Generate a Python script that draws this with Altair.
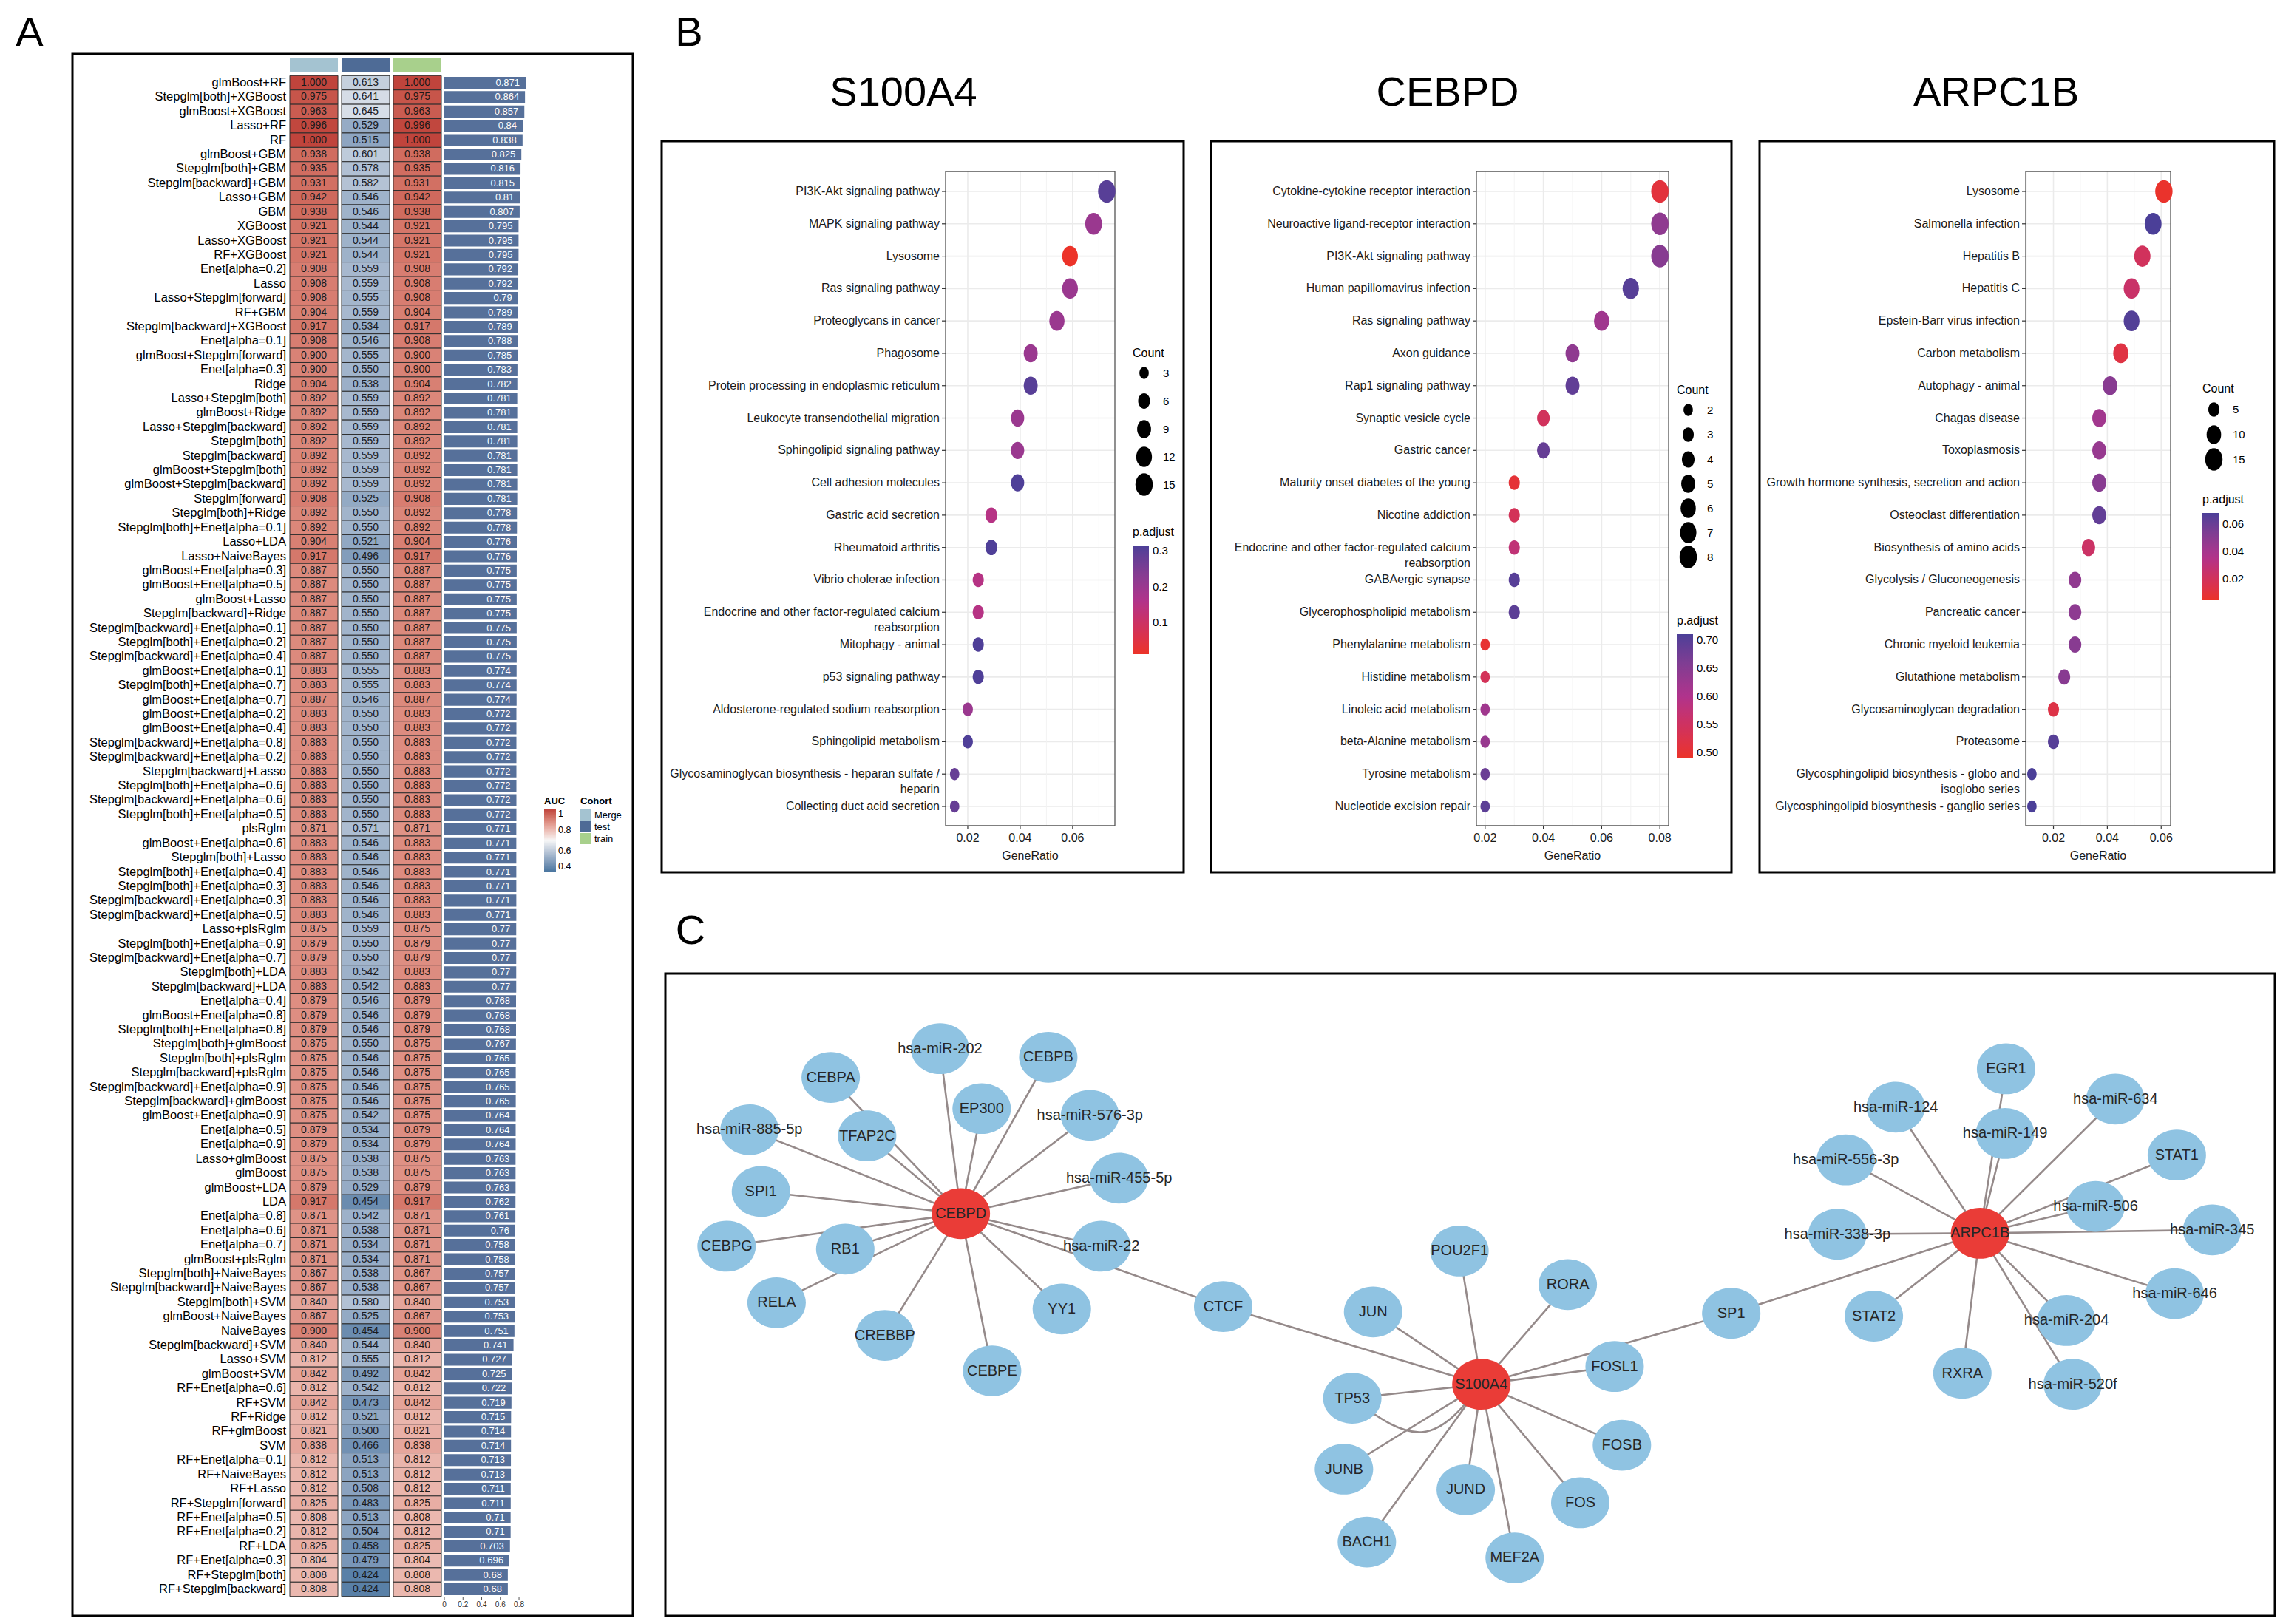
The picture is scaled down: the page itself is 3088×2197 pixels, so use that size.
import altair as alt
import pandas as pd

FONT = "Liberation Sans"
M = 8  # page margin: page coordinate p -> chart coordinate p - M


def P(v):
    return v - M


W, H = 3072, 2181

# ---------------------------------------------------------------- Panel A data
models = [
    "glmBoost+RF", "Stepglm[both]+XGBoost", "glmBoost+XGBoost", "Lasso+RF", "RF",
    "glmBoost+GBM", "Stepglm[both]+GBM", "Stepglm[backward]+GBM", "Lasso+GBM", "GBM",
    "XGBoost", "Lasso+XGBoost", "RF+XGBoost", "Enet[alpha=0.2]", "Lasso",
    "Lasso+Stepglm[forward]", "RF+GBM", "Stepglm[backward]+XGBoost", "Enet[alpha=0.1]", "glmBoost+Stepglm[forward]",
    "Enet[alpha=0.3]", "Ridge", "Lasso+Stepglm[both]", "glmBoost+Ridge", "Lasso+Stepglm[backward]",
    "Stepglm[both]", "Stepglm[backward]", "glmBoost+Stepglm[both]", "glmBoost+Stepglm[backward]", "Stepglm[forward]",
    "Stepglm[both]+Ridge", "Stepglm[both]+Enet[alpha=0.1]", "Lasso+LDA", "Lasso+NaiveBayes", "glmBoost+Enet[alpha=0.3]",
    "glmBoost+Enet[alpha=0.5]", "glmBoost+Lasso", "Stepglm[backward]+Ridge", "Stepglm[backward]+Enet[alpha=0.1]", "Stepglm[both]+Enet[alpha=0.2]",
    "Stepglm[backward]+Enet[alpha=0.4]", "glmBoost+Enet[alpha=0.1]", "Stepglm[both]+Enet[alpha=0.7]", "glmBoost+Enet[alpha=0.7]", "glmBoost+Enet[alpha=0.2]",
    "glmBoost+Enet[alpha=0.4]", "Stepglm[backward]+Enet[alpha=0.8]", "Stepglm[backward]+Enet[alpha=0.2]", "Stepglm[backward]+Lasso", "Stepglm[both]+Enet[alpha=0.6]",
    "Stepglm[backward]+Enet[alpha=0.6]", "Stepglm[both]+Enet[alpha=0.5]", "plsRglm", "glmBoost+Enet[alpha=0.6]", "Stepglm[both]+Lasso",
    "Stepglm[both]+Enet[alpha=0.4]", "Stepglm[both]+Enet[alpha=0.3]", "Stepglm[backward]+Enet[alpha=0.3]", "Stepglm[backward]+Enet[alpha=0.5]", "Lasso+plsRglm",
    "Stepglm[both]+Enet[alpha=0.9]", "Stepglm[backward]+Enet[alpha=0.7]", "Stepglm[both]+LDA", "Stepglm[backward]+LDA", "Enet[alpha=0.4]",
    "glmBoost+Enet[alpha=0.8]", "Stepglm[both]+Enet[alpha=0.8]", "Stepglm[both]+glmBoost", "Stepglm[both]+plsRglm", "Stepglm[backward]+plsRglm",
    "Stepglm[backward]+Enet[alpha=0.9]", "Stepglm[backward]+glmBoost", "glmBoost+Enet[alpha=0.9]", "Enet[alpha=0.5]", "Enet[alpha=0.9]",
    "Lasso+glmBoost", "glmBoost", "glmBoost+LDA", "LDA", "Enet[alpha=0.8]",
    "Enet[alpha=0.6]", "Enet[alpha=0.7]", "glmBoost+plsRglm", "Stepglm[both]+NaiveBayes", "Stepglm[backward]+NaiveBayes",
    "Stepglm[both]+SVM", "glmBoost+NaiveBayes", "NaiveBayes", "Stepglm[backward]+SVM", "Lasso+SVM",
    "glmBoost+SVM", "RF+Enet[alpha=0.6]", "RF+SVM", "RF+Ridge", "RF+glmBoost",
    "SVM", "RF+Enet[alpha=0.1]", "RF+NaiveBayes", "RF+Lasso", "RF+Stepglm[forward]",
    "RF+Enet[alpha=0.5]", "RF+Enet[alpha=0.2]", "RF+LDA", "RF+Enet[alpha=0.3]", "RF+Stepglm[both]",
    "RF+Stepglm[backward]",
]

train_auc = [
    1.000, 0.975, 0.963, 0.996, 1.000, 0.938, 0.935, 0.931, 0.942, 0.938,
    0.921, 0.921, 0.921, 0.908, 0.908, 0.908, 0.904, 0.917, 0.908, 0.900,
    0.900, 0.904, 0.892, 0.892, 0.892, 0.892, 0.892, 0.892, 0.892, 0.908,
    0.892, 0.892, 0.904, 0.917, 0.887, 0.887, 0.887, 0.887, 0.887, 0.887,
    0.887, 0.883, 0.883, 0.887, 0.883, 0.883, 0.883, 0.883, 0.883, 0.883,
    0.883, 0.883, 0.871, 0.883, 0.883, 0.883, 0.883, 0.883, 0.883, 0.875,
    0.879, 0.879, 0.883, 0.883, 0.879, 0.879, 0.879, 0.875, 0.875, 0.875,
    0.875, 0.875, 0.875, 0.879, 0.879, 0.875, 0.875, 0.879, 0.917, 0.871,
    0.871, 0.871, 0.871, 0.867, 0.867, 0.840, 0.867, 0.900, 0.840, 0.812,
    0.842, 0.812, 0.842, 0.812, 0.821, 0.838, 0.812, 0.812, 0.812, 0.825,
    0.808, 0.812, 0.825, 0.804, 0.808, 0.808,
]
merge_auc = [
    1.000, 0.975, 0.963, 0.996, 1.000, 0.938, 0.935, 0.931, 0.942, 0.938,
    0.921, 0.921, 0.921, 0.908, 0.908, 0.908, 0.904, 0.917, 0.908, 0.900,
    0.900, 0.904, 0.892, 0.892, 0.892, 0.892, 0.892, 0.892, 0.892, 0.908,
    0.892, 0.892, 0.904, 0.917, 0.887, 0.887, 0.887, 0.887, 0.887, 0.887,
    0.887, 0.883, 0.883, 0.887, 0.883, 0.883, 0.883, 0.883, 0.883, 0.883,
    0.883, 0.883, 0.871, 0.883, 0.883, 0.883, 0.883, 0.883, 0.883, 0.875,
    0.879, 0.879, 0.883, 0.883, 0.879, 0.879, 0.879, 0.875, 0.875, 0.875,
    0.875, 0.875, 0.875, 0.879, 0.879, 0.875, 0.875, 0.879, 0.917, 0.871,
    0.871, 0.871, 0.871, 0.867, 0.867, 0.840, 0.867, 0.900, 0.840, 0.812,
    0.842, 0.812, 0.842, 0.812, 0.821, 0.838, 0.812, 0.812, 0.812, 0.825,
    0.808, 0.812, 0.825, 0.804, 0.808, 0.808,
]
test_auc = [
    0.613, 0.641, 0.645, 0.529, 0.515, 0.601, 0.578, 0.582, 0.546, 0.546,
    0.544, 0.544, 0.544, 0.559, 0.559, 0.555, 0.559, 0.534, 0.546, 0.555,
    0.550, 0.538, 0.559, 0.559, 0.559, 0.559, 0.559, 0.559, 0.559, 0.525,
    0.550, 0.550, 0.521, 0.496, 0.550, 0.550, 0.550, 0.550, 0.550, 0.550,
    0.550, 0.555, 0.555, 0.546, 0.550, 0.550, 0.550, 0.550, 0.550, 0.550,
    0.550, 0.550, 0.571, 0.546, 0.546, 0.546, 0.546, 0.546, 0.546, 0.559,
    0.550, 0.550, 0.542, 0.542, 0.546, 0.546, 0.546, 0.550, 0.546, 0.546,
    0.546, 0.546, 0.542, 0.534, 0.534, 0.538, 0.538, 0.529, 0.454, 0.542,
    0.538, 0.534, 0.534, 0.538, 0.538, 0.580, 0.525, 0.454, 0.544, 0.555,
    0.492, 0.542, 0.473, 0.521, 0.500, 0.466, 0.513, 0.513, 0.508, 0.483,
    0.513, 0.504, 0.458, 0.479, 0.424, 0.424,
]
mean_auc = [
    0.871, 0.864, 0.857, 0.84, 0.838, 0.825, 0.816, 0.815, 0.81, 0.807,
    0.795, 0.795, 0.795, 0.792, 0.792, 0.79, 0.789, 0.789, 0.788, 0.785,
    0.783, 0.782, 0.781, 0.781, 0.781, 0.781, 0.781, 0.781, 0.781, 0.781,
    0.778, 0.778, 0.776, 0.776, 0.775, 0.775, 0.775, 0.775, 0.775, 0.775,
    0.775, 0.774, 0.774, 0.774, 0.772, 0.772, 0.772, 0.772, 0.772, 0.772,
    0.772, 0.772, 0.771, 0.771, 0.771, 0.771, 0.771, 0.771, 0.771, 0.77,
    0.77, 0.77, 0.77, 0.77, 0.768, 0.768, 0.768, 0.767, 0.765, 0.765,
    0.765, 0.765, 0.764, 0.764, 0.764, 0.763, 0.763, 0.763, 0.762, 0.761,
    0.76, 0.758, 0.758, 0.757, 0.757, 0.753, 0.753, 0.751, 0.741, 0.727,
    0.725, 0.722, 0.719, 0.715, 0.714, 0.714, 0.713, 0.713, 0.711, 0.711,
    0.71, 0.71, 0.703, 0.696, 0.68, 0.68,
]
cohorts = ["Merge", "test", "train"]
cohort_colors = ["#a4c3d1", "#4e6b96", "#a8d08c"]
bar_ticks = [0, 0.2, 0.4, 0.6, 0.8]
bar_tick_labels = ["0", "0.2", "0.4", "0.6", "0.8"]

# ---------------------------------------------------------------- Panel B data
s_terms = [
    "PI3K-Akt signaling pathway", "MAPK signaling pathway", "Lysosome", "Ras signaling pathway",
    "Proteoglycans in cancer", "Phagosome", "Protein processing in endoplasmic reticulum",
    "Leukocyte transendothelial migration", "Sphingolipid signaling pathway", "Cell adhesion molecules",
    "Gastric acid secretion", "Rheumatoid arthritis", "Vibrio cholerae infection",
    "Endocrine and other factor-regulated calcium\nreabsorption", "Mitophagy - animal",
    "p53 signaling pathway", "Aldosterone-regulated sodium reabsorption", "Sphingolipid metabolism",
    "Glycosaminoglycan biosynthesis - heparan sulfate /\nheparin", "Collecting duct acid secretion",
]
s_ratio = [0.073, 0.068, 0.059, 0.059, 0.054, 0.044, 0.044, 0.039, 0.039, 0.039,
           0.029, 0.029, 0.024, 0.024, 0.024, 0.024, 0.020, 0.020, 0.015, 0.015]
s_count = [15, 14, 12, 12, 11, 9, 9, 8, 8, 8, 6, 6, 5, 5, 5, 5, 4, 4, 3, 3]
s_padj = [0.30, 0.20, 0.012, 0.20, 0.20, 0.20, 0.30, 0.20, 0.20, 0.31,
          0.15, 0.31, 0.15, 0.15, 0.31, 0.31, 0.20, 0.31, 0.28, 0.28]

c_terms = [
    "Cytokine-cytokine receptor interaction", "Neuroactive ligand-receptor interaction",
    "PI3K-Akt signaling pathway", "Human papillomavirus infection", "Ras signaling pathway",
    "Axon guidance", "Rap1 signaling pathway", "Synaptic vesicle cycle", "Gastric cancer",
    "Maturity onset diabetes of the young", "Nicotine addiction",
    "Endocrine and other factor-regulated calcium\nreabsorption", "GABAergic synapse",
    "Glycerophospholipid metabolism", "Phenylalanine metabolism", "Histidine metabolism",
    "Linoleic acid metabolism", "beta-Alanine metabolism", "Tyrosine metabolism",
    "Nucleotide excision repair",
]
c_ratio = [0.08, 0.08, 0.08, 0.07, 0.06, 0.05, 0.05, 0.04, 0.04, 0.03,
           0.03, 0.03, 0.03, 0.03, 0.02, 0.02, 0.02, 0.02, 0.02, 0.02]
c_count = [8, 8, 8, 7, 6, 5, 5, 4, 4, 3, 3, 3, 3, 3, 2, 2, 2, 2, 2, 2]
c_padj = [0.51, 0.64, 0.65, 0.70, 0.62, 0.64, 0.69, 0.545, 0.685, 0.505,
          0.54, 0.575, 0.70, 0.695, 0.50, 0.54, 0.62, 0.63, 0.68, 0.695]

a_terms = [
    "Lysosome", "Salmonella infection", "Hepatitis B", "Hepatitis C", "Epstein-Barr virus infection",
    "Carbon metabolism", "Autophagy - animal", "Chagas disease", "Toxoplasmosis",
    "Growth hormone synthesis, secretion and action", "Osteoclast differentiation",
    "Biosynthesis of amino acids", "Glycolysis / Gluconeogenesis", "Pancreatic cancer",
    "Chronic myeloid leukemia", "Glutathione metabolism", "Glycosaminoglycan degradation",
    "Proteasome", "Glycosphingolipid biosynthesis - globo and\nisoglobo series",
    "Glycosphingolipid biosynthesis - ganglio series",
]
a_ratio = [0.061, 0.057, 0.053, 0.049, 0.049, 0.045, 0.041, 0.037, 0.037, 0.037,
           0.037, 0.033, 0.028, 0.028, 0.028, 0.024, 0.020, 0.020, 0.012, 0.012]
a_count = [15, 14, 13, 12, 12, 11, 10, 9, 9, 9, 9, 8, 7, 7, 7, 6, 5, 5, 3, 3]
a_padj = [0.005, 0.068, 0.020, 0.024, 0.066, 0.012, 0.050, 0.041, 0.045, 0.050,
          0.062, 0.023, 0.047, 0.048, 0.050, 0.050, 0.013, 0.065, 0.068, 0.068]

# ---------------------------------------------------------------- Panel C data (layout coords)
node_names = [
    "CEBPD", "hsa-miR-202", "CEBPB", "CEBPA", "EP300", "hsa-miR-576-3p", "hsa-miR-885-5p",
    "TFAP2C", "hsa-miR-455-5p", "SPI1", "CEBPG", "RB1", "hsa-miR-22", "RELA", "CREBBP",
    "YY1", "CEBPE", "CTCF", "S100A4", "POU2F1", "RORA", "JUN", "FOSL1", "TP53", "FOSB",
    "JUNB", "JUND", "FOS", "BACH1", "MEF2A", "SP1", "ARPC1B", "EGR1", "hsa-miR-124",
    "hsa-miR-634", "hsa-miR-149", "STAT1", "hsa-miR-556-3p", "hsa-miR-506", "hsa-miR-338-3p",
    "hsa-miR-345", "hsa-miR-646", "STAT2", "hsa-miR-204", "RXRA", "hsa-miR-520f",
]
node_x = [298, 278, 382, 173, 318, 422, 95, 208, 450, 106, 73, 187, 433, 121, 225,
          395, 328, 550, 798, 777, 881, 694, 926, 674, 933, 666, 783, 893, 688, 830,
          1038, 1277, 1302, 1196, 1407, 1301, 1466, 1148, 1388, 1140, 1500, 1464, 1175,
          1360, 1260, 1366]
node_y = [712, 368, 386, 428, 493, 507, 537, 550, 638, 666, 780, 786, 780, 898, 966,
          911, 1040, 906, 1068, 790, 860, 917, 1031, 1097, 1195, 1245, 1288, 1315, 1397,
          1430, 920, 753, 410, 490, 473, 545, 590, 600, 697, 755, 746, 879, 926, 935,
          1045, 1068]
hub_names = ["CEBPD", "S100A4", "ARPC1B"]
edge_src = (["CEBPD"] * 17 + ["S100A4"] * 13 + ["ARPC1B"] * 15)
edge_dst = [
    "hsa-miR-202", "CEBPB", "CEBPA", "EP300", "hsa-miR-576-3p", "hsa-miR-885-5p", "TFAP2C",
    "hsa-miR-455-5p", "SPI1", "CEBPG", "RB1", "hsa-miR-22", "RELA", "CREBBP", "YY1", "CEBPE", "CTCF",
    "CTCF", "POU2F1", "RORA", "JUN", "FOSL1", "TP53", "FOSB", "JUNB", "JUND", "FOS", "BACH1", "MEF2A", "SP1",
    "SP1", "EGR1", "hsa-miR-124", "hsa-miR-634", "hsa-miR-149", "STAT1", "hsa-miR-556-3p",
    "hsa-miR-506", "hsa-miR-338-3p", "hsa-miR-345", "hsa-miR-646", "STAT2", "hsa-miR-204",
    "RXRA", "hsa-miR-520f",
]
# second (curved) TP53 - S100A4 edge, read as a bent path: TP53 -> bend -> S100A4
loop_x = [674, 745, 798]
loop_y = [1097, 1210, 1068]

# ---------------------------------------------------------------- styles
AUC_RANGE = ["#4a76a0", "#f7f7f7", "#c0443c"]
BAR_COLOR = "#56709a"
P_RANGE = ["#ec3328", "#b0338c", "#4b3f98"]
NODE_COLORS = ["#ea3c37", "#8fc3e2"]
EDGE_COLOR = "#958a8a"
ELL_V = "M0,-1A0.77,1,0,1,1,0,1A0.77,1,0,1,1,0,-1Z"
ELL_H = "M-1,0A1,0.87,0,1,1,1,0A1,0.87,0,1,1,-1,0Z"
one = pd.DataFrame({"d": [0]})

# ================================================================ Panel A
n = len(models)
heat = pd.DataFrame({
    "model": models * 3,
    "cohort": ["Merge"] * n + ["test"] * n + ["train"] * n,
    "auc": merge_auc + test_auc + train_auc,
})
heat["label"] = heat["auc"].map(lambda v: f"{v:.3f}")
rows = pd.DataFrame({"model": models, "mean": mean_auc})
rows["mlabel"] = rows["mean"].map(lambda v: f"{v:.3f}".rstrip("0"))

xA = alt.Scale(type="band", domain=cohorts, range=[P(392), P(597)], paddingInner=0.071, paddingOuter=0)
yA = alt.Scale(type="band", domain=models, range=[P(102.3), P(2159.7)], paddingInner=0, paddingOuter=0)

heat_rect = alt.Chart(heat).mark_rect(stroke="#2e2e2e", strokeWidth=1).encode(
    x=alt.X("cohort:N", scale=xA, axis=None),
    y=alt.Y("model:N", scale=yA, axis=None),
    color=alt.Color("auc:Q", scale=alt.Scale(domain=[0.4, 0.7, 1.0], range=AUC_RANGE),
                    legend=alt.Legend(title="AUC", orient="none", legendX=P(736), legendY=P(1078),
                                      direction="vertical", gradientLength=84, gradientThickness=16,
                                      values=[0.4, 0.6, 0.8, 1.0], format="~g", titleFontSize=13,
                                      titleFontWeight="bold", labelFontSize=12.5, gradientStrokeWidth=0,
                                      titlePadding=4, labelOffset=3)),
)
heat_text = alt.Chart(heat).mark_text(font=FONT, fontSize=14, color="#1a1a1a").encode(
    x=alt.X("cohort:N", scale=xA, axis=None),
    y=alt.Y("model:N", scale=yA, axis=None),
    text="label:N",
)
row_labels = alt.Chart(rows).mark_text(font=FONT, fontSize=16.5, align="right", color="black").encode(
    x=alt.value(P(387)),
    y=alt.Y("model:N", scale=yA, axis=None),
    text="model:N",
)
header = alt.Chart(pd.DataFrame({"cohort": cohorts})).mark_rect().encode(
    x=alt.X("cohort:N", scale=xA, axis=None),
    y=alt.value(P(78)), y2=alt.value(P(98)),
    color=alt.Color("cohort:N", scale=alt.Scale(domain=cohorts, range=cohort_colors),
                    legend=alt.Legend(title="Cohort", orient="none", legendX=P(785), legendY=P(1078),
                                      symbolType="square", symbolSize=225, symbolStrokeWidth=0,
                                      rowPadding=1, labelFontSize=13, titleFontSize=13,
                                      titleFontWeight="bold", titlePadding=4, labelOffset=4)),
)
panelA_heat = alt.layer(heat_rect, heat_text, row_labels, header).resolve_scale(color="independent")

xBar = alt.Scale(domain=[0, 1], range=[P(601), P(601 + 126.3)], nice=False)
yBar = alt.Scale(type="band", domain=models, range=[P(102.3), P(2159.7)], paddingInner=0.17, paddingOuter=0.085)
bars = alt.Chart(rows).mark_bar(color=BAR_COLOR).encode(
    x=alt.X("mean:Q", scale=xBar, axis=None),
    y=alt.Y("model:N", scale=yBar, axis=None),
)
bar_text = alt.Chart(rows).mark_text(font=FONT, fontSize=13, align="right", dx=-8, color="white").encode(
    x=alt.X("mean:Q", scale=xBar, axis=None),
    y=alt.Y("model:N", scale=yBar, axis=None),
    text="mlabel:N",
)
tick_df = pd.DataFrame({"t": bar_ticks, "lab": bar_tick_labels})
bar_axis_ticks = alt.Chart(tick_df).mark_rule(color="#555", strokeWidth=1).encode(
    x=alt.X("t:Q", scale=xBar, axis=None), y=alt.value(P(2160)), y2=alt.value(P(2164)))
bar_axis_text = alt.Chart(tick_df).mark_text(font=FONT, fontSize=10, baseline="top", color="#333").encode(
    x=alt.X("t:Q", scale=xBar, axis=None), y=alt.value(P(2166)), text="lab:N")
panelA_bars = alt.layer(bars, bar_text, bar_axis_ticks, bar_axis_text)

# ================================================================ Panel B
PLOT_TOP, PLOT_BOT = 232, 1117
ROW0, ROW1 = 259, 1091


def dotplot(terms, ratio, count, padj, cfg):
    df = pd.DataFrame({"term": terms, "ratio": ratio, "count": count, "padj": padj})
    x0, x1 = cfg["x0"], cfg["x1"]
    xs = alt.Scale(domain=cfg["xdom"], range=[P(x0), P(x1)], zero=False, nice=False)
    ys = alt.Scale(type="point", domain=terms, range=[P(ROW0), P(ROW1)], padding=0)
    X = lambda f: alt.X(f, scale=xs, axis=None)
    Y = alt.Y("term:N", scale=ys, axis=None)
    major = pd.DataFrame({"t": cfg["major"], "lab": [f"{v:.2f}" for v in cfg["major"]]})
    minor = pd.DataFrame({"t": cfg["minor"]})

    hgrid = alt.Chart(df).mark_rule(color="#ebebeb", strokeWidth=1.6).encode(
        x=alt.value(P(x0)), x2=alt.value(P(x1)), y=Y)
    vmajor = alt.Chart(major).mark_rule(color="#ebebeb", strokeWidth=1.6).encode(
        x=X("t:Q"), y=alt.value(P(PLOT_TOP)), y2=alt.value(P(PLOT_BOT)))
    vminor = alt.Chart(minor).mark_rule(color="#f2f2f2", strokeWidth=0.9).encode(
        x=X("t:Q"), y=alt.value(P(PLOT_TOP)), y2=alt.value(P(PLOT_BOT)))
    border = alt.Chart(one).mark_rect(fill="transparent", stroke="#555555", strokeWidth=1.3).encode(
        x=alt.value(P(x0)), x2=alt.value(P(x1)), y=alt.value(P(PLOT_TOP)), y2=alt.value(P(PLOT_BOT)))
    pts = alt.Chart(df).mark_point(filled=True, shape=ELL_V, opacity=1, strokeWidth=0).encode(
        x=X("ratio:Q"), y=Y,
        color=alt.Color("padj:Q", scale=alt.Scale(domain=cfg["pdom"], range=P_RANGE, interpolate="lab"),
                        legend=alt.Legend(title="p.adjust", orient="none", legendX=P(cfg["legx"]),
                                          legendY=P(cfg["py"]), direction="vertical",
                                          gradientLength=cfg["glen"], gradientThickness=22,
                                          values=cfg["pvals"], format=cfg["pfmt"],
                                          titleFontSize=16, labelFontSize=15, titleFontWeight="normal",
                                          gradientStrokeWidth=0, titlePadding=10, labelOffset=5)),
        size=alt.Size("count:Q", scale=alt.Scale(domain=[min(count), max(count)], range=[270, 930], zero=False),
                      legend=alt.Legend(title="Count", orient="none", legendX=P(cfg["legx"]),
                                        legendY=P(cfg["county"]), values=cfg["cvals"],
                                        symbolType=ELL_V, symbolFillColor="black",
                                        symbolStrokeColor="black", symbolStrokeWidth=0,
                                        titleFontSize=16, labelFontSize=15, titleFontWeight="normal",
                                        gridAlign="all", rowPadding=cfg["rowpad"], labelOffset=10,
                                        titlePadding=10)),
    )
    ylab = alt.Chart(df).mark_text(font=FONT, fontSize=16, align="right", baseline="middle",
                                   color="#1a1a1a", lineBreak="\n", lineHeight=21).encode(
        x=alt.value(P(x0 - 8)), y=Y, text="term:N")
    yticks = alt.Chart(df).mark_rule(color="#333", strokeWidth=1.2).encode(
        x=alt.value(P(x0 - 5)), x2=alt.value(P(x0)), y=Y)
    xticks = alt.Chart(major).mark_rule(color="#333", strokeWidth=1.2).encode(
        x=X("t:Q"), y=alt.value(P(PLOT_BOT)), y2=alt.value(P(PLOT_BOT + 5)))
    xlab = alt.Chart(major).mark_text(font=FONT, fontSize=16, color="#1a1a1a").encode(
        x=X("t:Q"), y=alt.value(P(1134)), text="lab:N")
    xtitle = alt.Chart(one).mark_text(font=FONT, fontSize=16, color="#1a1a1a").encode(
        x=alt.value(P((x0 + x1) / 2)), y=alt.value(P(1158)), text=alt.value("GeneRatio"))
    return alt.layer(hgrid, vminor, vmajor, border, pts, ylab, yticks, xticks, xlab, xtitle)


cfgS = dict(x0=1279, x1=1508, xdom=[0.01155, 0.0761], major=[0.02, 0.04, 0.06], minor=[0.03, 0.05, 0.07],
            pdom=[0.011, 0.163, 0.315], pvals=[0.1, 0.2, 0.3], pfmt=".1f", cvals=[3, 6, 9, 12, 15],
            legx=1532, county=470, py=712, glen=147, rowpad=5)
cfgC = dict(x0=1997, x1=2257, xdom=[0.017, 0.083], major=[0.02, 0.04, 0.06, 0.08], minor=[0.03, 0.05, 0.07],
            pdom=[0.49, 0.60, 0.71], pvals=[0.5, 0.55, 0.6, 0.65, 0.7], pfmt=".2f",
            cvals=[2, 3, 4, 5, 6, 7, 8], legx=2268, county=520, py=832, glen=168, rowpad=1)
cfgR = dict(x0=2740, x1=2936, xdom=[0.0097, 0.0635], major=[0.02, 0.04, 0.06], minor=[0.01, 0.03, 0.05],
            pdom=[0.004, 0.036, 0.068], pvals=[0.02, 0.04, 0.06], pfmt=".2f", cvals=[5, 10, 15],
            legx=2979, county=518, py=668, glen=118, rowpad=0)

panelB1 = dotplot(s_terms, s_ratio, s_count, s_padj, cfgS)
panelB2 = dotplot(c_terms, c_ratio, c_count, c_padj, cfgC)
panelB3 = dotplot(a_terms, a_ratio, a_count, a_padj, cfgR)

# ================================================================ Panel C
nodes = pd.DataFrame({"name": node_names, "x": node_x, "y": node_y})
nodes["kind"] = ["hub" if nm in hub_names else "other" for nm in node_names]
pos = {nm: (x, y) for nm, x, y in zip(node_names, node_x, node_y)}
edges = pd.DataFrame({
    "sx": [pos[s][0] for s in edge_src], "sy": [pos[s][1] for s in edge_src],
    "tx": [pos[t][0] for t in edge_dst], "ty": [pos[t][1] for t in edge_dst],
})
loop = pd.DataFrame({"x": loop_x, "y": loop_y, "o": [0, 1, 2]})
xN = alt.Scale(domain=[0, 1568], range=[P(880), P(3088)], zero=False, nice=False)
yN = alt.Scale(domain=[0, 1568], range=[P(1180), P(2197)], zero=False, nice=False)
edge_marks = alt.Chart(edges).mark_rule(color=EDGE_COLOR, strokeWidth=2.6).encode(
    x=alt.X("sx:Q", scale=xN, axis=None), y=alt.Y("sy:Q", scale=yN, axis=None),
    x2="tx:Q", y2="ty:Q")
loop_mark = alt.Chart(loop).mark_line(color=EDGE_COLOR, strokeWidth=2.6, interpolate="basis").encode(
    x=alt.X("x:Q", scale=xN, axis=None), y=alt.Y("y:Q", scale=yN, axis=None), order="o:Q")
node_marks = alt.Chart(nodes).mark_point(filled=True, shape=ELL_H, size=6241, opacity=1, strokeWidth=0).encode(
    x=alt.X("x:Q", scale=xN, axis=None), y=alt.Y("y:Q", scale=yN, axis=None),
    color=alt.Color("kind:N", scale=alt.Scale(domain=["hub", "other"], range=NODE_COLORS), legend=None))
node_text = alt.Chart(nodes).mark_text(font=FONT, fontSize=20, color="#262626").encode(
    x=alt.X("x:Q", scale=xN, axis=None), y=alt.Y("y:Q", scale=yN, axis=None), text="name:N")
panelC = alt.layer(edge_marks, loop_mark, node_marks, node_text)

# ================================================================ frames and titles


def frame(x0, y0, x1, y1, w=3):
    return alt.Chart(one).mark_rect(fill="transparent", stroke="black", strokeWidth=w).encode(
        x=alt.value(P(x0)), x2=alt.value(P(x1)), y=alt.value(P(y0)), y2=alt.value(P(y1)))


def label(txt, x, y, size, align="center"):
    return alt.Chart(one).mark_text(font=FONT, fontSize=size, align=align, baseline="alphabetic",
                                    color="black").encode(
        x=alt.value(P(x)), y=alt.value(P(y)), text=alt.value(txt))


frames = alt.layer(
    frame(98, 73, 856, 2186),
    frame(895, 191, 1601, 1180),
    frame(1638, 191, 2342, 1180),
    frame(2380, 191, 3076, 1180),
    frame(900, 1317, 3077, 2186),
    label("A", 40, 62, 56),
    label("B", 932, 62, 56),
    label("C", 934, 1277, 56),
    label("S100A4", 1222, 143, 56),
    label("CEBPD", 1958, 143, 56),
    label("ARPC1B", 2700, 143, 56),
)

chart = alt.layer(
    frames, panelA_heat, panelA_bars, panelB1, panelB2, panelB3, panelC
).resolve_scale(
    x="independent", y="independent", color="independent", size="independent"
).properties(
    width=W, height=H, padding=0, autosize=alt.AutoSizeParams(type="none")
).configure_view(stroke=None).configure_legend(labelFont=FONT, titleFont=FONT)

chart.save("out.html", embed_options={"renderer": "svg", "actions": False})
